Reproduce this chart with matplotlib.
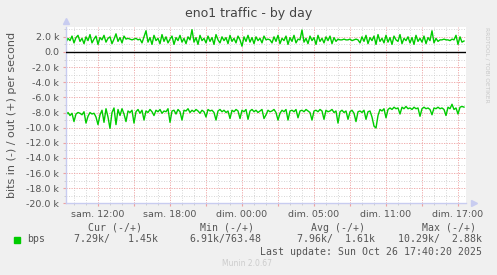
import numpy as np
import matplotlib
matplotlib.use("Agg")
from matplotlib import pyplot as plt
from matplotlib.ticker import FixedLocator, FixedFormatter

# 10 minute samples, in k bits/s
bits_in = [
    8.3, 8.0, 8.4, 8.1, 9.2, 8.2, 8.0, 8.1, 8.3, 7.9,
    9.4, 8.5, 8.0, 8.2, 8.1, 8.6, 9.6, 8.3, 7.7, 9.3,
    7.5, 8.6, 10.1, 8.0, 7.4, 9.6, 7.6, 8.4, 7.5, 8.2,
    9.2, 7.8, 8.0, 7.7, 9.4, 7.9, 7.6, 8.1, 7.7, 9.0,
    7.8, 8.0, 7.6, 7.9, 8.4, 7.7, 7.9, 7.6, 8.1, 7.8,
    7.9, 7.5, 9.3, 7.8, 7.7, 8.2, 7.6, 7.9, 9.0, 7.7,
    7.8, 7.5, 8.0, 7.7, 7.9, 7.6, 7.8, 8.1, 7.7, 7.9,
    8.6, 7.6, 7.8, 7.7, 8.0, 9.0, 7.8, 7.6, 7.9, 7.7,
    8.0, 7.8, 8.8, 7.7, 7.9, 7.6, 7.8, 8.8, 7.7, 7.9,
    7.6, 8.9, 7.8, 7.6, 7.9, 7.7, 8.0, 7.8, 7.6, 8.8,
    8.3, 7.7, 7.9, 7.8, 7.6, 8.0, 9.0, 8.1, 7.7, 7.9,
    7.6, 9.0, 7.8, 7.7, 7.9, 7.6, 8.7, 7.8, 7.7, 7.9,
    7.6, 7.8, 8.0, 9.0, 7.8, 7.7, 7.9, 7.6, 7.8, 8.9,
    7.7, 7.9, 7.8, 7.6, 8.0, 7.8, 9.4, 7.9, 7.7, 8.0,
    7.8, 8.9, 7.9, 7.7, 8.1, 9.2, 7.9, 7.8, 8.0, 7.7,
    8.9, 7.9, 7.8, 8.6, 9.8, 10.05, 8.4, 7.6, 7.8, 7.5,
    8.7, 7.6, 7.4, 7.6, 7.3, 7.5, 7.4, 8.2, 7.3, 7.5,
    7.2, 7.5, 7.4, 7.6, 7.3, 7.5, 7.4, 8.5, 7.5, 7.3,
    7.5, 7.4, 7.6, 8.3, 7.4, 7.5, 7.3, 7.5, 7.4, 7.6,
    8.4, 7.3, 7.5, 6.91, 7.6, 7.4, 8.2, 7.3, 7.2, 7.29,
]
bits_out = [
    1.3, 1.8, 1.5, 2.1, 1.2, 1.9, 2.2, 1.4, 1.8, 1.1,
    2.0, 1.5, 2.3, 1.2, 1.7, 2.1, 1.0, 1.9, 1.6, 2.2,
    1.3, 1.8, 2.0, 1.1, 1.7, 2.4, 1.4, 1.9, 1.2, 2.1,
    1.7, 1.8, 1.7, 1.6, 1.7, 1.8, 1.6, 1.7, 1.2, 2.0,
    2.8, 1.3, 1.9, 1.0, 2.2, 1.5, 1.8, 1.1, 2.3, 1.4,
    2.0, 1.2, 1.7, 2.1, 1.0, 1.9, 1.5, 2.2, 1.3, 1.8,
    1.1, 2.0, 1.6, 2.95, 1.3, 1.9, 1.0, 2.2, 1.5, 1.8,
    1.2, 2.1, 1.4, 1.9, 1.0, 2.3, 1.6, 1.2, 2.0, 1.5,
    1.9, 1.1, 2.2, 1.4, 1.8, 1.2, 2.1, 1.6, 0.76, 2.0,
    1.4, 2.2, 1.3, 1.9, 1.1, 2.0, 1.5, 1.8, 1.2, 2.1,
    1.6, 1.7, 1.6, 1.2, 2.0, 1.4, 2.2, 1.1, 1.8, 1.5,
    2.1, 1.0, 1.9, 1.4, 2.2, 1.2, 1.7, 1.6, 2.9, 1.3,
    1.8, 1.1, 2.1, 1.5, 1.9, 1.0, 2.2, 1.4, 1.8, 1.2,
    2.0, 1.5, 2.1, 1.1, 1.9, 1.4, 1.7, 1.6, 1.6, 1.7,
    1.6, 1.6, 1.7, 1.5, 1.6, 1.7, 1.6, 1.2, 2.0, 1.4,
    2.2, 1.1, 1.9, 1.5, 2.1, 1.0, 2.3, 1.4, 1.8, 1.2,
    2.2, 1.3, 1.9, 1.0, 2.1, 1.6, 1.4, 2.3, 1.1, 1.8,
    1.5, 2.0, 1.2, 1.9, 1.0, 2.2, 1.4, 1.8, 1.3, 2.1,
    1.1, 1.9, 1.5, 2.8, 1.2, 1.8, 1.4, 1.6, 1.6, 1.7,
    1.6, 1.6, 1.5, 1.7, 1.6, 2.2, 1.0, 2.0, 1.3, 1.45,
]
step_h = 10 / 60.0
span_h = 400 * 5 / 60.0          # munin day graph: 400 px, 5 min each
first_label_h = 2 + 40 / 60.0    # sam. 12:00 after the graph start

x_labels = ["sam. 12:00", "sam. 18:00", "dim. 00:00", "dim. 05:00", "dim. 11:00", "dim. 17:00"]
y_ticks = [2, 0, -2, -4, -6, -8, -10, -12, -14, -16, -18, -20]
y_labels = ["2.0 k", "0.0", "-2.0 k", "-4.0 k", "-6.0 k", "-8.0 k", "-10.0 k",
            "-12.0 k", "-14.0 k", "-16.0 k", "-18.0 k", "-20.0 k"]

headers = ["Cur (-/+)", "Min (-/+)", "Avg (-/+)", "Max (-/+)"]
values = ["7.29k/   1.45k", "6.91k/763.48", "7.96k/  1.61k", "10.29k/  2.88k"]

GREEN = "#00cc00"
TXT = "#555555"
BG = "#f0f0f0"

W, H = 497, 275
fig = plt.figure(figsize=(W / 100, H / 100), dpi=100, facecolor=BG)
ax = fig.add_axes([66 / W, (H - 203.3) / H, 400 / W, 176.3 / H])
ax.set_facecolor("white")

t = np.arange(len(bits_in)) * step_h
ax.plot(t, bits_out, color=GREEN, lw=1.0)
ax.plot(t, [-v for v in bits_in], color=GREEN, lw=1.0)
ax.axhline(0, color="black", lw=1.0, zorder=3)

ax.set_xlim(0, span_h)
ax.set_ylim(-20, 3.3)

# grid: majors every 3h / 2k, minors every 1h / 1k
majors_x = np.arange(first_label_h, span_h, 3)
minors_x = np.arange(first_label_h - 2, span_h, 1)
ax.xaxis.set_major_locator(FixedLocator(majors_x))
lab = []
for i in range(len(majors_x)):
    lab.append(x_labels[i // 2] if i % 2 == 0 else "")
ax.xaxis.set_major_formatter(FixedFormatter(lab))
ax.xaxis.set_minor_locator(FixedLocator(minors_x))
ax.yaxis.set_major_locator(FixedLocator(y_ticks))
ax.yaxis.set_major_formatter(FixedFormatter(y_labels))
ax.yaxis.set_minor_locator(FixedLocator(np.arange(-19, 3.3, 2)))

ax.grid(which="minor", color="#c8c8c8", lw=0.6, ls=(0, (1, 2)))
ax.grid(which="major", color="#eea0a0", lw=0.6, ls=(0, (1.5, 1.5)))
ax.set_axisbelow(True)

ax.tick_params(which="major", axis="x", length=2.5, color="#eea0a0", labelsize=6.8,
               labelcolor=TXT, pad=2.5)
ax.tick_params(which="minor", axis="x", length=1.5, color="#c8c8c8")
ax.tick_params(which="major", axis="y", length=2, color="#eea0a0", labelsize=6.8,
               labelcolor=TXT, pad=3)
ax.tick_params(which="minor", axis="y", length=1.5, color="#c8c8c8")

for s in ["top", "right"]:
    ax.spines[s].set_visible(False)
for s in ["left", "bottom"]:
    ax.spines[s].set_color("#c8ccf0")
    ax.spines[s].set_linewidth(1.0)
# axis arrows
ax.plot([0], [1.035], marker="^", ms=4, color="#c8ccf0", transform=ax.transAxes, clip_on=False)
ax.plot([1.02], [0], marker=">", ms=4, color="#c8ccf0", transform=ax.transAxes, clip_on=False)

fig.text(0.5, (H - 14) / H, "eno1 traffic - by day", ha="center", va="center",
         fontsize=9, color="#444444")
fig.text(12 / W, (H - 115) / H, "bits in (-) / out (+) per second", rotation=90,
         ha="center", va="center", fontsize=8, color=TXT)
fig.text(487 / W, (H - 65) / H, "RRDTOOL / TOBI OETIKER", rotation=270,
         ha="center", va="center", fontsize=4.2, color="#c8c8c8")

mono = "DejaVu Sans Mono"
head_x = [142, 254, 365, 476]
val_x = [158, 261, 375, 482]
for hx, h in zip(head_x, headers):
    fig.text(hx / W, (H - 227.7) / H, h, ha="right", va="center", family=mono,
             fontsize=7.1, color=TXT)
for vx, v in zip(val_x, values):
    fig.text(vx / W, (H - 239.3) / H, v, ha="right", va="center", family=mono,
             fontsize=7.1, color=TXT)
fig.patches.append(plt.Rectangle((14 / W, (H - 242.7) / H), 6 / W, 6 / H,
                                 transform=fig.transFigure, color=GREEN))
fig.text(27 / W, (H - 239.3) / H, "bps", ha="left", va="center", family=mono,
         fontsize=7.1, color=TXT)
fig.text(482 / W, (H - 252) / H, "Last update: Sun Oct 26 17:40:20 2025", ha="right",
         va="center", family=mono, fontsize=7.1, color=TXT)
fig.text(272 / W, (H - 263) / H, "Munin 2.0.67", ha="right", va="center",
         fontsize=5.5, color="#cccccc")

fig.savefig("out.png", dpi=100, facecolor=BG)
